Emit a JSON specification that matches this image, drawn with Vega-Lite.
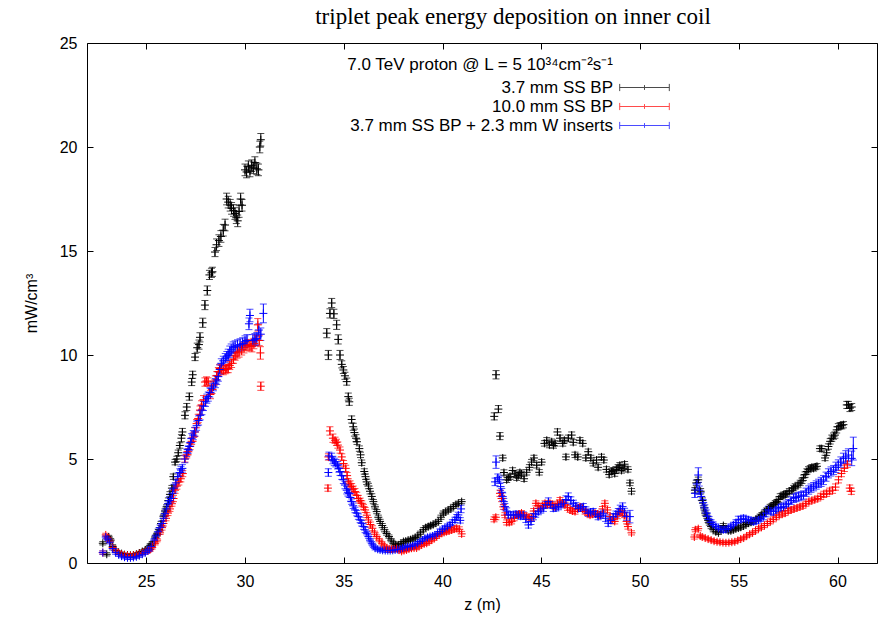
{
"$schema": "https://vega.github.io/schema/vega-lite/v6.json",
"width": 790, "height": 520,
"autosize": "none",
"padding": {"left": 87, "top": 43, "right": 4, "bottom": 55},
"background": "white",
"title": {"text": "triplet peak energy deposition on inner coil", "font": "Liberation Serif", "fontSize": 23, "fontWeight": "normal", "color": "black", "anchor": "middle", "dx": 31, "offset": 6},
"config": {"view": {"stroke": "black", "strokeWidth": 1}, "axis": {"grid": false, "domain": false, "tickColor": "black", "tickWidth": 1, "labelFont": "Liberation Sans", "labelFontSize": 16, "labelColor": "black", "titleFont": "Liberation Sans", "titleFontSize": 16, "titleFontWeight": "normal", "titleColor": "black"}},
"data": {"values": [
{"s":"A","z":22.8,"v":0.95,"e":0.08},{"s":"A","z":23.0,"v":0.42,"e":0.08},{"s":"A","z":23.1,"v":1.25,"e":0.08},{"s":"A","z":23.2,"v":1.1,"e":0.08},{"s":"A","z":23.3,"v":0.8,"e":0.08},{"s":"A","z":23.45,"v":0.6,"e":0.08},{"s":"A","z":23.6,"v":0.5,"e":0.08},{"s":"A","z":23.75,"v":0.45,"e":0.08},{"s":"A","z":23.9,"v":0.4,"e":0.08},{"s":"A","z":24.05,"v":0.38,"e":0.08},{"s":"A","z":24.2,"v":0.37,"e":0.08},{"s":"A","z":24.35,"v":0.38,"e":0.08},{"s":"A","z":24.5,"v":0.42,"e":0.08},{"s":"A","z":24.65,"v":0.48,"e":0.08},{"s":"A","z":24.8,"v":0.55,"e":0.08},{"s":"A","z":24.95,"v":0.62,"e":0.08},{"s":"A","z":25.1,"v":0.72,"e":0.08},{"s":"A","z":25.2,"v":0.85,"e":0.08},{"s":"A","z":25.3,"v":0.95,"e":0.08},{"s":"A","z":25.45,"v":1.25,"e":0.08},{"s":"A","z":25.55,"v":1.4,"e":0.08},{"s":"A","z":25.65,"v":1.6,"e":0.1},{"s":"A","z":25.75,"v":1.9,"e":0.1},{"s":"A","z":25.87,"v":2.25,"e":0.1},{"s":"A","z":25.95,"v":2.5,"e":0.1},{"s":"A","z":26.03,"v":2.7,"e":0.1},{"s":"A","z":26.12,"v":3.0,"e":0.13},{"s":"A","z":26.2,"v":3.3,"e":0.13},{"s":"A","z":26.3,"v":3.6,"e":0.13},{"s":"A","z":26.37,"v":4.15,"e":0.13},{"s":"A","z":26.46,"v":4.85,"e":0.13},{"s":"A","z":26.55,"v":5.0,"e":0.13},{"s":"A","z":26.62,"v":5.3,"e":0.13},{"s":"A","z":26.7,"v":5.65,"e":0.13},{"s":"A","z":26.78,"v":6.0,"e":0.17},{"s":"A","z":26.83,"v":6.3,"e":0.17},{"s":"A","z":26.96,"v":7.1,"e":0.17},{"s":"A","z":27.05,"v":7.5,"e":0.17},{"s":"A","z":27.18,"v":8.0,"e":0.17},{"s":"A","z":27.3,"v":8.7,"e":0.17},{"s":"A","z":27.35,"v":9.05,"e":0.17},{"s":"A","z":27.47,"v":9.9,"e":0.17},{"s":"A","z":27.58,"v":10.35,"e":0.22},{"s":"A","z":27.67,"v":10.5,"e":0.22},{"s":"A","z":27.72,"v":10.85,"e":0.22},{"s":"A","z":27.86,"v":11.55,"e":0.22},{"s":"A","z":27.97,"v":12.4,"e":0.22},{"s":"A","z":28.09,"v":13.1,"e":0.22},{"s":"A","z":28.2,"v":13.85,"e":0.22},{"s":"A","z":28.3,"v":13.95,"e":0.22},{"s":"A","z":28.35,"v":14.0,"e":0.22},{"s":"A","z":28.48,"v":14.95,"e":0.22},{"s":"A","z":28.56,"v":15.3,"e":0.28},{"s":"A","z":28.68,"v":15.5,"e":0.28},{"s":"A","z":28.78,"v":15.7,"e":0.28},{"s":"A","z":28.9,"v":16.0,"e":0.28},{"s":"A","z":28.99,"v":16.25,"e":0.28},{"s":"A","z":29.07,"v":17.5,"e":0.28},{"s":"A","z":29.15,"v":17.35,"e":0.28},{"s":"A","z":29.25,"v":17.2,"e":0.28},{"s":"A","z":29.32,"v":17.05,"e":0.28},{"s":"A","z":29.42,"v":16.95,"e":0.28},{"s":"A","z":29.49,"v":16.8,"e":0.28},{"s":"A","z":29.56,"v":16.6,"e":0.28},{"s":"A","z":29.63,"v":16.45,"e":0.28},{"s":"A","z":29.7,"v":16.9,"e":0.28},{"s":"A","z":29.78,"v":17.5,"e":0.28},{"s":"A","z":29.85,"v":17.2,"e":0.28},{"s":"A","z":30.0,"v":18.9,"e":0.28},{"s":"A","z":30.08,"v":18.8,"e":0.28},{"s":"A","z":30.17,"v":19.05,"e":0.28},{"s":"A","z":30.25,"v":18.85,"e":0.28},{"s":"A","z":30.34,"v":19.1,"e":0.28},{"s":"A","z":30.42,"v":19.0,"e":0.28},{"s":"A","z":30.5,"v":19.25,"e":0.28},{"s":"A","z":30.6,"v":18.95,"e":0.28},{"s":"A","z":30.68,"v":18.9,"e":0.28},{"s":"A","z":30.75,"v":20.0,"e":0.28},{"s":"A","z":30.8,"v":20.35,"e":0.3},
{"s":"A","z":34.14,"v":11.05,"e":0.22},{"s":"A","z":34.22,"v":10.0,"e":0.22},{"s":"A","z":34.3,"v":12.0,"e":0.22},{"s":"A","z":34.39,"v":12.5,"e":0.22},{"s":"A","z":34.5,"v":11.98,"e":0.22},{"s":"A","z":34.64,"v":11.45,"e":0.22},{"s":"A","z":34.72,"v":10.75,"e":0.22},{"s":"A","z":34.81,"v":10.0,"e":0.22},{"s":"A","z":34.9,"v":9.55,"e":0.17},{"s":"A","z":34.98,"v":9.28,"e":0.17},{"s":"A","z":35.06,"v":9.0,"e":0.17},{"s":"A","z":35.15,"v":8.72,"e":0.17},{"s":"A","z":35.23,"v":8.0,"e":0.17},{"s":"A","z":35.28,"v":7.75,"e":0.17},{"s":"A","z":35.4,"v":6.9,"e":0.17},{"s":"A","z":35.48,"v":6.55,"e":0.17},{"s":"A","z":35.54,"v":6.27,"e":0.17},{"s":"A","z":35.62,"v":6.0,"e":0.17},{"s":"A","z":35.67,"v":5.83,"e":0.13},{"s":"A","z":35.79,"v":5.5,"e":0.13},{"s":"A","z":35.85,"v":5.2,"e":0.13},{"s":"A","z":35.91,"v":4.82,"e":0.13},{"s":"A","z":36.04,"v":4.4,"e":0.13},{"s":"A","z":36.1,"v":4.15,"e":0.13},{"s":"A","z":36.16,"v":3.9,"e":0.13},{"s":"A","z":36.25,"v":3.7,"e":0.13},{"s":"A","z":36.33,"v":3.45,"e":0.13},{"s":"A","z":36.42,"v":3.2,"e":0.13},{"s":"A","z":36.5,"v":2.95,"e":0.1},{"s":"A","z":36.58,"v":2.7,"e":0.1},{"s":"A","z":36.67,"v":2.47,"e":0.1},{"s":"A","z":36.75,"v":2.2,"e":0.1},{"s":"A","z":36.84,"v":2.0,"e":0.1},{"s":"A","z":36.95,"v":1.8,"e":0.1},{"s":"A","z":37.06,"v":1.6,"e":0.1},{"s":"A","z":37.17,"v":1.42,"e":0.08},{"s":"A","z":37.29,"v":1.27,"e":0.08},{"s":"A","z":37.4,"v":1.1,"e":0.08},{"s":"A","z":37.51,"v":0.95,"e":0.08},{"s":"A","z":37.63,"v":0.88,"e":0.08},{"s":"A","z":37.76,"v":0.87,"e":0.08},{"s":"A","z":37.9,"v":0.95,"e":0.08},{"s":"A","z":38.02,"v":1.03,"e":0.08},{"s":"A","z":38.14,"v":1.05,"e":0.08},{"s":"A","z":38.26,"v":1.1,"e":0.08},{"s":"A","z":38.38,"v":1.12,"e":0.08},{"s":"A","z":38.5,"v":1.17,"e":0.08},{"s":"A","z":38.62,"v":1.22,"e":0.08},{"s":"A","z":38.75,"v":1.3,"e":0.08},{"s":"A","z":38.88,"v":1.45,"e":0.08},{"s":"A","z":39.03,"v":1.6,"e":0.1},{"s":"A","z":39.15,"v":1.7,"e":0.1},{"s":"A","z":39.28,"v":1.75,"e":0.1},{"s":"A","z":39.4,"v":1.8,"e":0.1},{"s":"A","z":39.53,"v":1.85,"e":0.1},{"s":"A","z":39.66,"v":1.92,"e":0.1},{"s":"A","z":39.79,"v":2.0,"e":0.1},{"s":"A","z":39.92,"v":2.2,"e":0.1},{"s":"A","z":40.04,"v":2.4,"e":0.1},{"s":"A","z":40.16,"v":2.45,"e":0.1},{"s":"A","z":40.29,"v":2.55,"e":0.1},{"s":"A","z":40.42,"v":2.6,"e":0.1},{"s":"A","z":40.55,"v":2.72,"e":0.1},{"s":"A","z":40.68,"v":2.8,"e":0.1},{"s":"A","z":40.8,"v":2.87,"e":0.1},{"s":"A","z":40.97,"v":2.95,"e":0.1},
{"s":"A","z":42.62,"v":7.05,"e":0.17},{"s":"A","z":42.71,"v":9.05,"e":0.2},{"s":"A","z":42.83,"v":7.4,"e":0.17},{"s":"A","z":42.91,"v":6.1,"e":0.17},{"s":"A","z":43.05,"v":5.05,"e":0.13},{"s":"A","z":43.11,"v":4.35,"e":0.13},{"s":"A","z":43.25,"v":4.0,"e":0.13},{"s":"A","z":43.33,"v":4.1,"e":0.13},{"s":"A","z":43.42,"v":4.15,"e":0.13},{"s":"A","z":43.55,"v":4.45,"e":0.13},{"s":"A","z":43.67,"v":4.28,"e":0.13},{"s":"A","z":43.76,"v":4.1,"e":0.13},{"s":"A","z":43.84,"v":4.2,"e":0.13},{"s":"A","z":43.92,"v":4.35,"e":0.13},{"s":"A","z":44.0,"v":4.28,"e":0.13},{"s":"A","z":44.13,"v":4.05,"e":0.13},{"s":"A","z":44.26,"v":4.36,"e":0.13},{"s":"A","z":44.4,"v":4.6,"e":0.13},{"s":"A","z":44.51,"v":4.85,"e":0.13},{"s":"A","z":44.63,"v":5.05,"e":0.13},{"s":"A","z":44.77,"v":4.7,"e":0.13},{"s":"A","z":44.9,"v":4.36,"e":0.13},{"s":"A","z":45.02,"v":4.85,"e":0.13},{"s":"A","z":45.16,"v":5.75,"e":0.13},{"s":"A","z":45.28,"v":5.9,"e":0.13},{"s":"A","z":45.41,"v":5.67,"e":0.13},{"s":"A","z":45.53,"v":5.83,"e":0.13},{"s":"A","z":45.62,"v":5.65,"e":0.13},{"s":"A","z":45.7,"v":5.75,"e":0.13},{"s":"A","z":45.82,"v":6.3,"e":0.15},{"s":"A","z":45.95,"v":6.0,"e":0.15},{"s":"A","z":46.09,"v":5.75,"e":0.13},{"s":"A","z":46.17,"v":5.9,"e":0.13},{"s":"A","z":46.25,"v":5.1,"e":0.13},{"s":"A","z":46.37,"v":6.0,"e":0.15},{"s":"A","z":46.54,"v":6.15,"e":0.15},{"s":"A","z":46.62,"v":5.8,"e":0.13},{"s":"A","z":46.71,"v":5.2,"e":0.13},{"s":"A","z":46.85,"v":5.1,"e":0.13},{"s":"A","z":46.96,"v":5.9,"e":0.13},{"s":"A","z":47.1,"v":5.75,"e":0.13},{"s":"A","z":47.26,"v":5.05,"e":0.13},{"s":"A","z":47.38,"v":5.35,"e":0.13},{"s":"A","z":47.51,"v":5.05,"e":0.13},{"s":"A","z":47.63,"v":4.8,"e":0.13},{"s":"A","z":47.8,"v":4.95,"e":0.13},{"s":"A","z":47.88,"v":4.6,"e":0.13},{"s":"A","z":48.05,"v":5.1,"e":0.13},{"s":"A","z":48.17,"v":4.95,"e":0.13},{"s":"A","z":48.3,"v":4.5,"e":0.13},{"s":"A","z":48.44,"v":4.25,"e":0.13},{"s":"A","z":48.55,"v":4.4,"e":0.13},{"s":"A","z":48.63,"v":4.45,"e":0.13},{"s":"A","z":48.72,"v":4.3,"e":0.13},{"s":"A","z":48.8,"v":4.5,"e":0.13},{"s":"A","z":48.89,"v":4.6,"e":0.13},{"s":"A","z":48.98,"v":4.7,"e":0.13},{"s":"A","z":49.06,"v":4.45,"e":0.13},{"s":"A","z":49.14,"v":4.55,"e":0.13},{"s":"A","z":49.22,"v":4.75,"e":0.13},{"s":"A","z":49.39,"v":4.5,"e":0.13},{"s":"A","z":49.49,"v":3.85,"e":0.13},{"s":"A","z":49.57,"v":3.45,"e":0.13},
{"s":"A","z":52.78,"v":3.5,"e":0.13},{"s":"A","z":52.85,"v":3.85,"e":0.13},{"s":"A","z":52.95,"v":4.0,"e":0.13},{"s":"A","z":53.07,"v":3.45,"e":0.13},{"s":"A","z":53.16,"v":3.0,"e":0.13},{"s":"A","z":53.24,"v":2.65,"e":0.1},{"s":"A","z":53.3,"v":2.4,"e":0.1},{"s":"A","z":53.38,"v":2.25,"e":0.1},{"s":"A","z":53.45,"v":2.05,"e":0.1},{"s":"A","z":53.51,"v":1.92,"e":0.1},{"s":"A","z":53.6,"v":1.75,"e":0.1},{"s":"A","z":53.71,"v":1.6,"e":0.1},{"s":"A","z":53.84,"v":1.5,"e":0.1},{"s":"A","z":53.97,"v":1.45,"e":0.08},{"s":"A","z":54.1,"v":1.6,"e":0.1},{"s":"A","z":54.22,"v":1.8,"e":0.1},{"s":"A","z":54.35,"v":1.65,"e":0.1},{"s":"A","z":54.47,"v":1.55,"e":0.1},{"s":"A","z":54.6,"v":1.55,"e":0.1},{"s":"A","z":54.73,"v":1.6,"e":0.1},{"s":"A","z":54.85,"v":1.65,"e":0.1},{"s":"A","z":54.98,"v":1.68,"e":0.1},{"s":"A","z":55.1,"v":1.72,"e":0.1},{"s":"A","z":55.24,"v":1.78,"e":0.1},{"s":"A","z":55.36,"v":1.85,"e":0.1},{"s":"A","z":55.49,"v":1.92,"e":0.1},{"s":"A","z":55.62,"v":1.96,"e":0.1},{"s":"A","z":55.74,"v":2.0,"e":0.1},{"s":"A","z":55.87,"v":2.1,"e":0.1},{"s":"A","z":56.0,"v":2.15,"e":0.1},{"s":"A","z":56.08,"v":2.25,"e":0.1},{"s":"A","z":56.17,"v":2.32,"e":0.1},{"s":"A","z":56.3,"v":2.45,"e":0.1},{"s":"A","z":56.42,"v":2.55,"e":0.1},{"s":"A","z":56.5,"v":2.6,"e":0.1},{"s":"A","z":56.59,"v":2.72,"e":0.1},{"s":"A","z":56.68,"v":2.75,"e":0.1},{"s":"A","z":56.76,"v":2.8,"e":0.1},{"s":"A","z":56.85,"v":2.9,"e":0.1},{"s":"A","z":56.93,"v":2.95,"e":0.1},{"s":"A","z":57.02,"v":3.05,"e":0.13},{"s":"A","z":57.1,"v":3.2,"e":0.13},{"s":"A","z":57.19,"v":3.22,"e":0.13},{"s":"A","z":57.27,"v":3.28,"e":0.13},{"s":"A","z":57.36,"v":3.3,"e":0.13},{"s":"A","z":57.44,"v":3.35,"e":0.13},{"s":"A","z":57.56,"v":3.45,"e":0.13},{"s":"A","z":57.69,"v":3.5,"e":0.13},{"s":"A","z":57.78,"v":3.6,"e":0.13},{"s":"A","z":57.86,"v":3.68,"e":0.13},{"s":"A","z":58.0,"v":3.75,"e":0.13},{"s":"A","z":58.11,"v":3.85,"e":0.13},{"s":"A","z":58.2,"v":3.95,"e":0.13},{"s":"A","z":58.28,"v":4.1,"e":0.13},{"s":"A","z":58.36,"v":4.25,"e":0.13},{"s":"A","z":58.45,"v":4.4,"e":0.13},{"s":"A","z":58.53,"v":4.5,"e":0.13},{"s":"A","z":58.62,"v":4.55,"e":0.13},{"s":"A","z":58.7,"v":4.6,"e":0.13},{"s":"A","z":58.79,"v":4.55,"e":0.13},{"s":"A","z":58.88,"v":4.62,"e":0.13},{"s":"A","z":58.96,"v":4.65,"e":0.13},{"s":"A","z":59.11,"v":5.5,"e":0.13},{"s":"A","z":59.2,"v":5.5,"e":0.13},{"s":"A","z":59.37,"v":5.05,"e":0.13},{"s":"A","z":59.45,"v":5.3,"e":0.13},{"s":"A","z":59.54,"v":5.6,"e":0.13},{"s":"A","z":59.63,"v":5.85,"e":0.13},{"s":"A","z":59.71,"v":6.0,"e":0.15},{"s":"A","z":59.8,"v":6.1,"e":0.15},{"s":"A","z":59.87,"v":6.15,"e":0.15},{"s":"A","z":59.96,"v":6.4,"e":0.15},{"s":"A","z":60.04,"v":6.55,"e":0.15},{"s":"A","z":60.13,"v":6.6,"e":0.15},{"s":"A","z":60.22,"v":6.6,"e":0.15},{"s":"A","z":60.3,"v":6.65,"e":0.15},{"s":"A","z":60.47,"v":7.6,"e":0.17},{"s":"A","z":60.55,"v":7.6,"e":0.17},{"s":"A","z":60.63,"v":7.45,"e":0.17},{"s":"A","z":60.72,"v":7.5,"e":0.17},
{"s":"B","z":22.8,"v":0.5,"e":0.08},{"s":"B","z":22.95,"v":1.35,"e":0.08},{"s":"B","z":23.05,"v":1.2,"e":0.08},{"s":"B","z":23.15,"v":1.05,"e":0.08},{"s":"B","z":23.3,"v":0.75,"e":0.08},{"s":"B","z":23.45,"v":0.58,"e":0.08},{"s":"B","z":23.6,"v":0.48,"e":0.08},{"s":"B","z":23.75,"v":0.42,"e":0.08},{"s":"B","z":23.9,"v":0.38,"e":0.08},{"s":"B","z":24.05,"v":0.36,"e":0.08},{"s":"B","z":24.2,"v":0.35,"e":0.08},{"s":"B","z":24.35,"v":0.37,"e":0.08},{"s":"B","z":24.5,"v":0.4,"e":0.08},{"s":"B","z":24.65,"v":0.45,"e":0.08},{"s":"B","z":24.8,"v":0.5,"e":0.08},{"s":"B","z":24.95,"v":0.55,"e":0.08},{"s":"B","z":25.1,"v":0.6,"e":0.08},{"s":"B","z":25.2,"v":0.65,"e":0.08},{"s":"B","z":25.3,"v":0.75,"e":0.08},{"s":"B","z":25.45,"v":0.95,"e":0.08},{"s":"B","z":25.55,"v":1.1,"e":0.08},{"s":"B","z":25.7,"v":1.45,"e":0.08},{"s":"B","z":25.8,"v":1.7,"e":0.12},{"s":"B","z":25.87,"v":1.9,"e":0.12},{"s":"B","z":26.0,"v":2.15,"e":0.12},{"s":"B","z":26.1,"v":2.4,"e":0.12},{"s":"B","z":26.2,"v":2.6,"e":0.12},{"s":"B","z":26.3,"v":2.85,"e":0.12},{"s":"B","z":26.38,"v":3.1,"e":0.15},{"s":"B","z":26.46,"v":3.5,"e":0.15},{"s":"B","z":26.55,"v":3.7,"e":0.15},{"s":"B","z":26.65,"v":3.9,"e":0.15},{"s":"B","z":26.75,"v":4.05,"e":0.15},{"s":"B","z":26.85,"v":4.3,"e":0.15},{"s":"B","z":26.96,"v":5.0,"e":0.15},{"s":"B","z":27.05,"v":5.2,"e":0.15},{"s":"B","z":27.13,"v":5.35,"e":0.15},{"s":"B","z":27.22,"v":5.6,"e":0.15},{"s":"B","z":27.3,"v":5.85,"e":0.15},{"s":"B","z":27.38,"v":6.05,"e":0.2},{"s":"B","z":27.47,"v":6.3,"e":0.2},{"s":"B","z":27.55,"v":6.7,"e":0.2},{"s":"B","z":27.63,"v":6.95,"e":0.2},{"s":"B","z":27.72,"v":7.35,"e":0.2},{"s":"B","z":27.8,"v":7.6,"e":0.2},{"s":"B","z":27.9,"v":7.85,"e":0.2},{"s":"B","z":27.97,"v":8.7,"e":0.2},{"s":"B","z":28.05,"v":8.75,"e":0.2},{"s":"B","z":28.13,"v":8.7,"e":0.2},{"s":"B","z":28.25,"v":8.1,"e":0.2},{"s":"B","z":28.33,"v":8.35,"e":0.2},{"s":"B","z":28.4,"v":8.55,"e":0.2},{"s":"B","z":28.5,"v":8.8,"e":0.2},{"s":"B","z":28.57,"v":9.0,"e":0.2},{"s":"B","z":28.65,"v":9.2,"e":0.2},{"s":"B","z":28.72,"v":9.35,"e":0.2},{"s":"B","z":28.8,"v":9.3,"e":0.2},{"s":"B","z":28.9,"v":9.25,"e":0.2},{"s":"B","z":29.0,"v":9.3,"e":0.2},{"s":"B","z":29.08,"v":9.35,"e":0.2},{"s":"B","z":29.15,"v":9.35,"e":0.2},{"s":"B","z":29.23,"v":9.5,"e":0.2},{"s":"B","z":29.32,"v":9.6,"e":0.2},{"s":"B","z":29.42,"v":9.8,"e":0.2},{"s":"B","z":29.5,"v":9.95,"e":0.2},{"s":"B","z":29.6,"v":10.1,"e":0.25},{"s":"B","z":29.7,"v":10.15,"e":0.25},{"s":"B","z":29.83,"v":10.25,"e":0.25},{"s":"B","z":29.95,"v":10.35,"e":0.25},{"s":"B","z":30.05,"v":10.45,"e":0.25},{"s":"B","z":30.15,"v":10.5,"e":0.25},{"s":"B","z":30.25,"v":10.45,"e":0.25},{"s":"B","z":30.35,"v":10.4,"e":0.25},{"s":"B","z":30.45,"v":10.55,"e":0.25},{"s":"B","z":30.55,"v":10.7,"e":0.25},{"s":"B","z":30.65,"v":11.45,"e":0.3},{"s":"B","z":30.72,"v":10.7,"e":0.25},{"s":"B","z":30.78,"v":10.1,"e":0.3},{"s":"B","z":30.8,"v":8.5,"e":0.2},
{"s":"B","z":34.2,"v":3.6,"e":0.15},{"s":"B","z":34.22,"v":5.1,"e":0.15},{"s":"B","z":34.3,"v":6.35,"e":0.2},{"s":"B","z":34.45,"v":6.0,"e":0.2},{"s":"B","z":34.56,"v":5.9,"e":0.15},{"s":"B","z":34.63,"v":5.8,"e":0.15},{"s":"B","z":34.7,"v":5.67,"e":0.15},{"s":"B","z":34.81,"v":5.43,"e":0.15},{"s":"B","z":34.9,"v":5.1,"e":0.15},{"s":"B","z":34.99,"v":4.78,"e":0.15},{"s":"B","z":35.1,"v":4.55,"e":0.15},{"s":"B","z":35.17,"v":4.2,"e":0.15},{"s":"B","z":35.23,"v":3.9,"e":0.15},{"s":"B","z":35.32,"v":3.8,"e":0.15},{"s":"B","z":35.4,"v":3.67,"e":0.15},{"s":"B","z":35.48,"v":3.55,"e":0.15},{"s":"B","z":35.57,"v":3.43,"e":0.15},{"s":"B","z":35.66,"v":3.25,"e":0.15},{"s":"B","z":35.74,"v":3.1,"e":0.15},{"s":"B","z":35.83,"v":3.0,"e":0.12},{"s":"B","z":35.91,"v":2.87,"e":0.12},{"s":"B","z":36.0,"v":2.7,"e":0.12},{"s":"B","z":36.08,"v":2.55,"e":0.12},{"s":"B","z":36.17,"v":2.3,"e":0.12},{"s":"B","z":36.25,"v":2.07,"e":0.12},{"s":"B","z":36.35,"v":1.85,"e":0.12},{"s":"B","z":36.45,"v":1.67,"e":0.12},{"s":"B","z":36.56,"v":1.45,"e":0.08},{"s":"B","z":36.67,"v":1.27,"e":0.08},{"s":"B","z":36.8,"v":1.1,"e":0.08},{"s":"B","z":36.93,"v":0.95,"e":0.08},{"s":"B","z":37.05,"v":0.82,"e":0.08},{"s":"B","z":37.18,"v":0.72,"e":0.08},{"s":"B","z":37.3,"v":0.68,"e":0.08},{"s":"B","z":37.43,"v":0.67,"e":0.08},{"s":"B","z":37.55,"v":0.68,"e":0.08},{"s":"B","z":37.68,"v":0.7,"e":0.08},{"s":"B","z":37.8,"v":0.62,"e":0.08},{"s":"B","z":37.93,"v":0.56,"e":0.08},{"s":"B","z":38.05,"v":0.6,"e":0.08},{"s":"B","z":38.18,"v":0.63,"e":0.08},{"s":"B","z":38.3,"v":0.67,"e":0.08},{"s":"B","z":38.43,"v":0.71,"e":0.08},{"s":"B","z":38.56,"v":0.72,"e":0.08},{"s":"B","z":38.69,"v":0.72,"e":0.08},{"s":"B","z":38.81,"v":0.8,"e":0.08},{"s":"B","z":38.94,"v":0.87,"e":0.08},{"s":"B","z":39.07,"v":0.92,"e":0.08},{"s":"B","z":39.2,"v":0.95,"e":0.08},{"s":"B","z":39.32,"v":1.02,"e":0.08},{"s":"B","z":39.45,"v":1.1,"e":0.08},{"s":"B","z":39.58,"v":1.18,"e":0.08},{"s":"B","z":39.7,"v":1.27,"e":0.08},{"s":"B","z":39.83,"v":1.35,"e":0.08},{"s":"B","z":39.96,"v":1.43,"e":0.08},{"s":"B","z":40.08,"v":1.47,"e":0.08},{"s":"B","z":40.2,"v":1.51,"e":0.12},{"s":"B","z":40.33,"v":1.55,"e":0.12},{"s":"B","z":40.46,"v":1.59,"e":0.12},{"s":"B","z":40.59,"v":1.63,"e":0.12},{"s":"B","z":40.72,"v":1.67,"e":0.12},{"s":"B","z":40.85,"v":1.62,"e":0.12},{"s":"B","z":40.97,"v":1.4,"e":0.12},
{"s":"B","z":42.61,"v":2.1,"e":0.12},{"s":"B","z":42.7,"v":2.2,"e":0.12},{"s":"B","z":42.91,"v":3.35,"e":0.15},{"s":"B","z":42.99,"v":3.1,"e":0.15},{"s":"B","z":43.08,"v":2.7,"e":0.12},{"s":"B","z":43.16,"v":2.3,"e":0.12},{"s":"B","z":43.25,"v":1.95,"e":0.12},{"s":"B","z":43.38,"v":1.95,"e":0.12},{"s":"B","z":43.5,"v":2.0,"e":0.12},{"s":"B","z":43.63,"v":2.15,"e":0.12},{"s":"B","z":43.76,"v":2.3,"e":0.12},{"s":"B","z":43.88,"v":2.35,"e":0.12},{"s":"B","z":44.0,"v":2.4,"e":0.12},{"s":"B","z":44.13,"v":2.3,"e":0.12},{"s":"B","z":44.26,"v":2.23,"e":0.12},{"s":"B","z":44.38,"v":2.2,"e":0.12},{"s":"B","z":44.51,"v":2.15,"e":0.12},{"s":"B","z":44.62,"v":2.5,"e":0.12},{"s":"B","z":44.73,"v":2.87,"e":0.12},{"s":"B","z":44.84,"v":2.75,"e":0.12},{"s":"B","z":44.94,"v":2.63,"e":0.12},{"s":"B","z":45.06,"v":2.75,"e":0.12},{"s":"B","z":45.19,"v":2.87,"e":0.12},{"s":"B","z":45.31,"v":2.8,"e":0.12},{"s":"B","z":45.44,"v":2.87,"e":0.12},{"s":"B","z":45.57,"v":2.8,"e":0.12},{"s":"B","z":45.7,"v":2.7,"e":0.12},{"s":"B","z":45.82,"v":2.85,"e":0.12},{"s":"B","z":45.95,"v":3.03,"e":0.12},{"s":"B","z":46.08,"v":2.9,"e":0.12},{"s":"B","z":46.2,"v":2.8,"e":0.12},{"s":"B","z":46.33,"v":2.65,"e":0.12},{"s":"B","z":46.46,"v":2.55,"e":0.12},{"s":"B","z":46.58,"v":2.5,"e":0.12},{"s":"B","z":46.71,"v":2.47,"e":0.12},{"s":"B","z":46.84,"v":2.6,"e":0.12},{"s":"B","z":46.96,"v":2.7,"e":0.12},{"s":"B","z":47.09,"v":2.6,"e":0.12},{"s":"B","z":47.22,"v":2.47,"e":0.12},{"s":"B","z":47.34,"v":2.4,"e":0.12},{"s":"B","z":47.47,"v":2.3,"e":0.12},{"s":"B","z":47.6,"v":2.35,"e":0.12},{"s":"B","z":47.72,"v":2.4,"e":0.12},{"s":"B","z":47.85,"v":2.35,"e":0.12},{"s":"B","z":47.97,"v":2.3,"e":0.12},{"s":"B","z":48.1,"v":2.6,"e":0.12},{"s":"B","z":48.22,"v":2.87,"e":0.12},{"s":"B","z":48.35,"v":2.55,"e":0.12},{"s":"B","z":48.48,"v":2.23,"e":0.12},{"s":"B","z":48.6,"v":2.1,"e":0.12},{"s":"B","z":48.72,"v":2.0,"e":0.12},{"s":"B","z":48.85,"v":2.25,"e":0.12},{"s":"B","z":48.98,"v":2.47,"e":0.12},{"s":"B","z":49.1,"v":2.4,"e":0.12},{"s":"B","z":49.22,"v":2.3,"e":0.12},{"s":"B","z":49.32,"v":2.0,"e":0.12},{"s":"B","z":49.39,"v":1.75,"e":0.12},{"s":"B","z":49.57,"v":1.45,"e":0.1},
{"s":"B","z":52.75,"v":1.25,"e":0.1},{"s":"B","z":52.8,"v":1.6,"e":0.1},{"s":"B","z":52.95,"v":1.65,"e":0.1},{"s":"B","z":53.05,"v":1.3,"e":0.08},{"s":"B","z":53.15,"v":1.25,"e":0.08},{"s":"B","z":53.3,"v":1.2,"e":0.08},{"s":"B","z":53.45,"v":1.15,"e":0.08},{"s":"B","z":53.6,"v":1.1,"e":0.08},{"s":"B","z":53.75,"v":1.05,"e":0.08},{"s":"B","z":53.9,"v":1.02,"e":0.08},{"s":"B","z":54.05,"v":1.0,"e":0.08},{"s":"B","z":54.2,"v":0.98,"e":0.08},{"s":"B","z":54.35,"v":0.97,"e":0.08},{"s":"B","z":54.5,"v":0.98,"e":0.08},{"s":"B","z":54.65,"v":1.0,"e":0.08},{"s":"B","z":54.8,"v":1.02,"e":0.08},{"s":"B","z":54.95,"v":1.08,"e":0.08},{"s":"B","z":55.1,"v":1.15,"e":0.08},{"s":"B","z":55.25,"v":1.2,"e":0.08},{"s":"B","z":55.4,"v":1.3,"e":0.08},{"s":"B","z":55.55,"v":1.38,"e":0.08},{"s":"B","z":55.7,"v":1.45,"e":0.08},{"s":"B","z":55.85,"v":1.55,"e":0.1},{"s":"B","z":56.0,"v":1.65,"e":0.1},{"s":"B","z":56.15,"v":1.72,"e":0.1},{"s":"B","z":56.3,"v":1.8,"e":0.1},{"s":"B","z":56.45,"v":1.9,"e":0.1},{"s":"B","z":56.6,"v":2.0,"e":0.12},{"s":"B","z":56.75,"v":2.1,"e":0.12},{"s":"B","z":56.9,"v":2.2,"e":0.12},{"s":"B","z":57.05,"v":2.3,"e":0.12},{"s":"B","z":57.2,"v":2.35,"e":0.12},{"s":"B","z":57.35,"v":2.4,"e":0.12},{"s":"B","z":57.5,"v":2.5,"e":0.12},{"s":"B","z":57.65,"v":2.55,"e":0.12},{"s":"B","z":57.8,"v":2.6,"e":0.12},{"s":"B","z":57.95,"v":2.65,"e":0.12},{"s":"B","z":58.1,"v":2.7,"e":0.12},{"s":"B","z":58.25,"v":2.75,"e":0.12},{"s":"B","z":58.4,"v":2.85,"e":0.12},{"s":"B","z":58.55,"v":2.95,"e":0.12},{"s":"B","z":58.7,"v":3.0,"e":0.12},{"s":"B","z":58.85,"v":3.05,"e":0.12},{"s":"B","z":59.0,"v":3.1,"e":0.12},{"s":"B","z":59.15,"v":3.2,"e":0.15},{"s":"B","z":59.3,"v":3.3,"e":0.15},{"s":"B","z":59.45,"v":3.35,"e":0.15},{"s":"B","z":59.6,"v":3.45,"e":0.15},{"s":"B","z":59.75,"v":3.5,"e":0.15},{"s":"B","z":59.9,"v":3.65,"e":0.15},{"s":"B","z":60.05,"v":4.0,"e":0.15},{"s":"B","z":60.2,"v":4.3,"e":0.15},{"s":"B","z":60.35,"v":4.55,"e":0.15},{"s":"B","z":60.5,"v":4.75,"e":0.15},{"s":"B","z":60.62,"v":3.6,"e":0.15},{"s":"B","z":60.7,"v":3.45,"e":0.15},
{"s":"C","z":22.8,"v":0.5,"e":0.08},{"s":"C","z":22.95,"v":1.25,"e":0.08},{"s":"C","z":23.05,"v":1.15,"e":0.08},{"s":"C","z":23.15,"v":1.0,"e":0.08},{"s":"C","z":23.3,"v":0.7,"e":0.08},{"s":"C","z":23.45,"v":0.5,"e":0.08},{"s":"C","z":23.6,"v":0.4,"e":0.08},{"s":"C","z":23.75,"v":0.33,"e":0.08},{"s":"C","z":23.9,"v":0.28,"e":0.08},{"s":"C","z":24.05,"v":0.25,"e":0.08},{"s":"C","z":24.2,"v":0.25,"e":0.08},{"s":"C","z":24.35,"v":0.27,"e":0.08},{"s":"C","z":24.5,"v":0.3,"e":0.08},{"s":"C","z":24.65,"v":0.35,"e":0.08},{"s":"C","z":24.8,"v":0.42,"e":0.08},{"s":"C","z":24.95,"v":0.5,"e":0.08},{"s":"C","z":25.05,"v":0.58,"e":0.08},{"s":"C","z":25.15,"v":0.63,"e":0.08},{"s":"C","z":25.25,"v":0.8,"e":0.08},{"s":"C","z":25.4,"v":1.1,"e":0.08},{"s":"C","z":25.5,"v":1.3,"e":0.08},{"s":"C","z":25.6,"v":1.5,"e":0.13},{"s":"C","z":25.7,"v":1.7,"e":0.13},{"s":"C","z":25.8,"v":1.9,"e":0.13},{"s":"C","z":25.88,"v":2.15,"e":0.13},{"s":"C","z":25.95,"v":2.37,"e":0.13},{"s":"C","z":26.03,"v":2.6,"e":0.13},{"s":"C","z":26.1,"v":2.85,"e":0.13},{"s":"C","z":26.18,"v":3.0,"e":0.18},{"s":"C","z":26.25,"v":3.1,"e":0.18},{"s":"C","z":26.33,"v":3.35,"e":0.18},{"s":"C","z":26.4,"v":3.6,"e":0.18},{"s":"C","z":26.5,"v":3.85,"e":0.18},{"s":"C","z":26.6,"v":4.15,"e":0.18},{"s":"C","z":26.7,"v":4.35,"e":0.18},{"s":"C","z":26.76,"v":4.47,"e":0.18},{"s":"C","z":26.83,"v":4.55,"e":0.18},{"s":"C","z":26.95,"v":5.0,"e":0.18},{"s":"C","z":27.05,"v":5.3,"e":0.18},{"s":"C","z":27.12,"v":5.45,"e":0.18},{"s":"C","z":27.18,"v":5.6,"e":0.18},{"s":"C","z":27.25,"v":5.8,"e":0.18},{"s":"C","z":27.3,"v":6.0,"e":0.22},{"s":"C","z":27.38,"v":6.15,"e":0.22},{"s":"C","z":27.45,"v":6.3,"e":0.22},{"s":"C","z":27.55,"v":6.6,"e":0.22},{"s":"C","z":27.65,"v":6.85,"e":0.22},{"s":"C","z":27.73,"v":7.1,"e":0.22},{"s":"C","z":27.82,"v":7.35,"e":0.22},{"s":"C","z":27.9,"v":7.55,"e":0.22},{"s":"C","z":28.0,"v":7.75,"e":0.22},{"s":"C","z":28.07,"v":7.9,"e":0.22},{"s":"C","z":28.14,"v":8.0,"e":0.22},{"s":"C","z":28.22,"v":8.2,"e":0.22},{"s":"C","z":28.3,"v":8.4,"e":0.22},{"s":"C","z":28.4,"v":8.5,"e":0.22},{"s":"C","z":28.5,"v":8.65,"e":0.22},{"s":"C","z":28.57,"v":8.8,"e":0.22},{"s":"C","z":28.65,"v":8.96,"e":0.22},{"s":"C","z":28.72,"v":9.3,"e":0.22},{"s":"C","z":28.8,"v":9.6,"e":0.22},{"s":"C","z":28.9,"v":9.72,"e":0.22},{"s":"C","z":29.0,"v":9.85,"e":0.22},{"s":"C","z":29.08,"v":9.95,"e":0.22},{"s":"C","z":29.15,"v":10.0,"e":0.28},{"s":"C","z":29.23,"v":10.15,"e":0.28},{"s":"C","z":29.3,"v":10.25,"e":0.28},{"s":"C","z":29.4,"v":10.35,"e":0.28},{"s":"C","z":29.5,"v":10.4,"e":0.28},{"s":"C","z":29.62,"v":10.45,"e":0.28},{"s":"C","z":29.75,"v":10.5,"e":0.28},{"s":"C","z":29.88,"v":10.55,"e":0.28},{"s":"C","z":30.0,"v":10.64,"e":0.28},{"s":"C","z":30.1,"v":10.7,"e":0.28},{"s":"C","z":30.2,"v":11.5,"e":0.28},{"s":"C","z":30.25,"v":11.9,"e":0.3},{"s":"C","z":30.4,"v":10.7,"e":0.28},{"s":"C","z":30.5,"v":10.75,"e":0.28},{"s":"C","z":30.6,"v":10.8,"e":0.28},{"s":"C","z":30.7,"v":11.2,"e":0.3},{"s":"C","z":30.8,"v":11.0,"e":0.3},{"s":"C","z":30.93,"v":12.0,"e":0.45},
{"s":"C","z":34.22,"v":4.35,"e":0.18},{"s":"C","z":34.25,"v":5.15,"e":0.18},{"s":"C","z":34.39,"v":5.1,"e":0.18},{"s":"C","z":34.45,"v":4.95,"e":0.18},{"s":"C","z":34.52,"v":4.86,"e":0.18},{"s":"C","z":34.6,"v":4.8,"e":0.18},{"s":"C","z":34.69,"v":4.7,"e":0.18},{"s":"C","z":34.75,"v":4.55,"e":0.18},{"s":"C","z":34.81,"v":4.39,"e":0.18},{"s":"C","z":34.9,"v":4.2,"e":0.18},{"s":"C","z":34.98,"v":4.0,"e":0.18},{"s":"C","z":35.06,"v":3.75,"e":0.18},{"s":"C","z":35.15,"v":3.5,"e":0.18},{"s":"C","z":35.21,"v":3.4,"e":0.18},{"s":"C","z":35.27,"v":3.35,"e":0.18},{"s":"C","z":35.34,"v":3.15,"e":0.18},{"s":"C","z":35.4,"v":2.95,"e":0.13},{"s":"C","z":35.48,"v":2.75,"e":0.13},{"s":"C","z":35.57,"v":2.55,"e":0.13},{"s":"C","z":35.66,"v":2.4,"e":0.13},{"s":"C","z":35.74,"v":2.23,"e":0.13},{"s":"C","z":35.83,"v":2.07,"e":0.13},{"s":"C","z":35.91,"v":1.91,"e":0.13},{"s":"C","z":36.0,"v":1.75,"e":0.13},{"s":"C","z":36.08,"v":1.59,"e":0.13},{"s":"C","z":36.17,"v":1.43,"e":0.08},{"s":"C","z":36.25,"v":1.27,"e":0.08},{"s":"C","z":36.33,"v":1.1,"e":0.08},{"s":"C","z":36.42,"v":0.95,"e":0.08},{"s":"C","z":36.5,"v":0.82,"e":0.08},{"s":"C","z":36.59,"v":0.71,"e":0.08},{"s":"C","z":36.72,"v":0.66,"e":0.08},{"s":"C","z":36.84,"v":0.63,"e":0.08},{"s":"C","z":36.97,"v":0.61,"e":0.08},{"s":"C","z":37.1,"v":0.6,"e":0.08},{"s":"C","z":37.23,"v":0.6,"e":0.08},{"s":"C","z":37.35,"v":0.6,"e":0.08},{"s":"C","z":37.48,"v":0.61,"e":0.08},{"s":"C","z":37.6,"v":0.63,"e":0.08},{"s":"C","z":37.73,"v":0.65,"e":0.08},{"s":"C","z":37.86,"v":0.67,"e":0.08},{"s":"C","z":37.98,"v":0.72,"e":0.08},{"s":"C","z":38.1,"v":0.76,"e":0.08},{"s":"C","z":38.23,"v":0.78,"e":0.08},{"s":"C","z":38.36,"v":0.79,"e":0.08},{"s":"C","z":38.48,"v":0.83,"e":0.08},{"s":"C","z":38.61,"v":0.87,"e":0.08},{"s":"C","z":38.74,"v":0.95,"e":0.08},{"s":"C","z":38.86,"v":1.03,"e":0.08},{"s":"C","z":38.99,"v":1.1,"e":0.08},{"s":"C","z":39.11,"v":1.19,"e":0.08},{"s":"C","z":39.24,"v":1.23,"e":0.08},{"s":"C","z":39.37,"v":1.27,"e":0.08},{"s":"C","z":39.5,"v":1.3,"e":0.08},{"s":"C","z":39.62,"v":1.35,"e":0.08},{"s":"C","z":39.75,"v":1.43,"e":0.08},{"s":"C","z":39.87,"v":1.51,"e":0.13},{"s":"C","z":40.0,"v":1.6,"e":0.13},{"s":"C","z":40.12,"v":1.67,"e":0.13},{"s":"C","z":40.25,"v":1.75,"e":0.13},{"s":"C","z":40.38,"v":1.83,"e":0.13},{"s":"C","z":40.5,"v":1.95,"e":0.13},{"s":"C","z":40.63,"v":2.07,"e":0.13},{"s":"C","z":40.72,"v":2.2,"e":0.13},{"s":"C","z":40.8,"v":2.31,"e":0.13},{"s":"C","z":40.9,"v":2.05,"e":0.13},{"s":"C","z":40.94,"v":2.6,"e":0.18},
{"s":"C","z":42.66,"v":3.9,"e":0.18},{"s":"C","z":42.71,"v":4.85,"e":0.3},{"s":"C","z":42.8,"v":4.1,"e":0.18},{"s":"C","z":42.88,"v":4.0,"e":0.18},{"s":"C","z":42.94,"v":3.67,"e":0.18},{"s":"C","z":43.0,"v":3.4,"e":0.18},{"s":"C","z":43.05,"v":3.19,"e":0.18},{"s":"C","z":43.1,"v":2.95,"e":0.15},{"s":"C","z":43.16,"v":2.71,"e":0.15},{"s":"C","z":43.25,"v":2.5,"e":0.15},{"s":"C","z":43.33,"v":2.31,"e":0.15},{"s":"C","z":43.46,"v":2.3,"e":0.15},{"s":"C","z":43.59,"v":2.31,"e":0.15},{"s":"C","z":43.72,"v":2.35,"e":0.15},{"s":"C","z":43.84,"v":2.31,"e":0.15},{"s":"C","z":43.96,"v":2.25,"e":0.15},{"s":"C","z":44.09,"v":2.31,"e":0.15},{"s":"C","z":44.22,"v":2.1,"e":0.15},{"s":"C","z":44.35,"v":1.83,"e":0.15},{"s":"C","z":44.48,"v":2.0,"e":0.15},{"s":"C","z":44.6,"v":2.23,"e":0.15},{"s":"C","z":44.72,"v":2.35,"e":0.15},{"s":"C","z":44.85,"v":2.47,"e":0.15},{"s":"C","z":44.98,"v":2.55,"e":0.15},{"s":"C","z":45.11,"v":2.63,"e":0.15},{"s":"C","z":45.23,"v":2.8,"e":0.15},{"s":"C","z":45.36,"v":2.95,"e":0.18},{"s":"C","z":45.48,"v":2.8,"e":0.15},{"s":"C","z":45.61,"v":2.63,"e":0.15},{"s":"C","z":45.74,"v":2.65,"e":0.15},{"s":"C","z":45.87,"v":2.71,"e":0.15},{"s":"C","z":46.0,"v":2.8,"e":0.15},{"s":"C","z":46.12,"v":2.87,"e":0.15},{"s":"C","z":46.25,"v":3.05,"e":0.18},{"s":"C","z":46.37,"v":3.19,"e":0.18},{"s":"C","z":46.5,"v":3.0,"e":0.18},{"s":"C","z":46.63,"v":2.87,"e":0.15},{"s":"C","z":46.75,"v":2.75,"e":0.15},{"s":"C","z":46.88,"v":2.63,"e":0.15},{"s":"C","z":47.0,"v":2.65,"e":0.15},{"s":"C","z":47.13,"v":2.71,"e":0.15},{"s":"C","z":47.26,"v":2.55,"e":0.15},{"s":"C","z":47.38,"v":2.39,"e":0.15},{"s":"C","z":47.5,"v":2.45,"e":0.15},{"s":"C","z":47.63,"v":2.47,"e":0.15},{"s":"C","z":47.75,"v":2.35,"e":0.15},{"s":"C","z":47.88,"v":2.23,"e":0.15},{"s":"C","z":48.01,"v":2.3,"e":0.15},{"s":"C","z":48.14,"v":2.39,"e":0.15},{"s":"C","z":48.26,"v":2.15,"e":0.15},{"s":"C","z":48.39,"v":1.91,"e":0.15},{"s":"C","z":48.52,"v":2.05,"e":0.15},{"s":"C","z":48.65,"v":2.23,"e":0.15},{"s":"C","z":48.78,"v":2.35,"e":0.15},{"s":"C","z":48.9,"v":2.47,"e":0.15},{"s":"C","z":49.0,"v":2.6,"e":0.18},{"s":"C","z":49.12,"v":2.71,"e":0.18},{"s":"C","z":49.22,"v":2.45,"e":0.18},{"s":"C","z":49.32,"v":2.23,"e":0.18},{"s":"C","z":49.49,"v":2.23,"e":0.3},
{"s":"C","z":52.78,"v":3.35,"e":0.2},{"s":"C","z":52.88,"v":3.8,"e":0.2},{"s":"C","z":52.95,"v":4.23,"e":0.35},{"s":"C","z":53.0,"v":3.5,"e":0.2},{"s":"C","z":53.1,"v":3.2,"e":0.18},{"s":"C","z":53.2,"v":2.9,"e":0.15},{"s":"C","z":53.28,"v":2.65,"e":0.15},{"s":"C","z":53.35,"v":2.4,"e":0.15},{"s":"C","z":53.42,"v":2.25,"e":0.15},{"s":"C","z":53.5,"v":2.1,"e":0.13},{"s":"C","z":53.6,"v":1.95,"e":0.13},{"s":"C","z":53.7,"v":1.85,"e":0.13},{"s":"C","z":53.84,"v":1.75,"e":0.13},{"s":"C","z":53.97,"v":1.67,"e":0.13},{"s":"C","z":54.1,"v":1.62,"e":0.13},{"s":"C","z":54.22,"v":1.6,"e":0.13},{"s":"C","z":54.35,"v":1.62,"e":0.13},{"s":"C","z":54.47,"v":1.67,"e":0.13},{"s":"C","z":54.6,"v":1.75,"e":0.13},{"s":"C","z":54.73,"v":1.83,"e":0.13},{"s":"C","z":54.86,"v":1.95,"e":0.13},{"s":"C","z":54.98,"v":2.07,"e":0.18},{"s":"C","z":55.11,"v":2.1,"e":0.15},{"s":"C","z":55.24,"v":2.15,"e":0.15},{"s":"C","z":55.36,"v":2.1,"e":0.15},{"s":"C","z":55.49,"v":2.07,"e":0.15},{"s":"C","z":55.62,"v":2.03,"e":0.15},{"s":"C","z":55.74,"v":1.99,"e":0.15},{"s":"C","z":55.87,"v":2.03,"e":0.15},{"s":"C","z":56.0,"v":2.07,"e":0.15},{"s":"C","z":56.12,"v":2.15,"e":0.15},{"s":"C","z":56.25,"v":2.23,"e":0.15},{"s":"C","z":56.38,"v":2.4,"e":0.18},{"s":"C","z":56.5,"v":2.55,"e":0.18},{"s":"C","z":56.63,"v":2.5,"e":0.18},{"s":"C","z":56.76,"v":2.47,"e":0.18},{"s":"C","z":56.88,"v":2.55,"e":0.18},{"s":"C","z":57.01,"v":2.63,"e":0.18},{"s":"C","z":57.14,"v":2.67,"e":0.18},{"s":"C","z":57.27,"v":2.71,"e":0.18},{"s":"C","z":57.4,"v":2.8,"e":0.18},{"s":"C","z":57.52,"v":2.87,"e":0.18},{"s":"C","z":57.65,"v":3.0,"e":0.18},{"s":"C","z":57.78,"v":3.11,"e":0.2},{"s":"C","z":57.9,"v":3.15,"e":0.2},{"s":"C","z":58.03,"v":3.19,"e":0.2},{"s":"C","z":58.16,"v":3.23,"e":0.2},{"s":"C","z":58.28,"v":3.27,"e":0.2},{"s":"C","z":58.41,"v":3.4,"e":0.2},{"s":"C","z":58.54,"v":3.51,"e":0.2},{"s":"C","z":58.66,"v":3.6,"e":0.2},{"s":"C","z":58.79,"v":3.67,"e":0.2},{"s":"C","z":58.92,"v":3.75,"e":0.2},{"s":"C","z":59.04,"v":3.83,"e":0.2},{"s":"C","z":59.17,"v":3.9,"e":0.22},{"s":"C","z":59.29,"v":3.99,"e":0.22},{"s":"C","z":59.42,"v":4.15,"e":0.22},{"s":"C","z":59.54,"v":4.31,"e":0.22},{"s":"C","z":59.67,"v":4.4,"e":0.22},{"s":"C","z":59.8,"v":4.47,"e":0.22},{"s":"C","z":59.92,"v":4.6,"e":0.25},{"s":"C","z":60.04,"v":4.71,"e":0.25},{"s":"C","z":60.17,"v":4.85,"e":0.25},{"s":"C","z":60.3,"v":5.03,"e":0.25},{"s":"C","z":60.42,"v":5.1,"e":0.3},{"s":"C","z":60.55,"v":5.19,"e":0.3},{"s":"C","z":60.72,"v":5.03,"e":0.35},{"s":"C","z":60.8,"v":5.5,"e":0.55}
]},
"layer": [
{"mark": {"type": "errorbar", "ticks": {"size": 7, "thickness": 1}, "thickness": 1},
 "encoding": {
  "x": {"field": "z", "type": "quantitative", "scale": {"domain": [22, 62], "nice": false, "zero": false}, "axis": {"orient": "top", "values": [25, 30, 35, 40, 45, 50, 55, 60], "labels": false, "tickSize": -6, "title": null}},
  "y": {"field": "v", "type": "quantitative", "scale": {"domain": [0, 25], "nice": false}, "axis": {"orient": "right", "values": [0, 5, 10, 15, 20, 25], "labels": false, "tickSize": -6, "title": null}},
  "yError": {"field": "e"},
  "color": {"field": "s", "type": "nominal", "scale": {"domain": ["A", "B", "C"], "range": ["#000000", "#ff0000", "#0000ff"]}}
 }},
{"mark": {"type": "point", "shape": "M-1,0H1M0,-1V1", "size": 64, "filled": false, "strokeWidth": 1, "opacity": 1},
 "encoding": {
  "x": {"field": "z", "type": "quantitative", "scale": {"domain": [22, 62], "nice": false, "zero": false}, "axis": {"orient": "bottom", "values": [25, 30, 35, 40, 45, 50, 55, 60], "tickSize": -6, "labelPadding": 16, "title": "z (m)", "titlePadding": 7}},
  "y": {"field": "v", "type": "quantitative", "scale": {"domain": [0, 25], "nice": false}, "axis": {"orient": "left", "values": [0, 5, 10, 15, 20, 25], "tickSize": -6, "labelPadding": 16, "title": "mW/cm³", "titlePadding": 20}},
  "color": {"field": "s", "type": "nominal", "scale": {"domain": ["A", "B", "C"], "range": ["#000000", "#ff0000", "#0000ff"]},
   "legend": {"orient": "none", "legendX": 259, "legendY": 14, "padding": 0,
    "title": "7.0 TeV proton @ L = 5 10³⁴cm⁻²s⁻¹", "titleAlign": "right", "titleAnchor": "start", "titleFont": "Liberation Sans", "titleFontSize": 17, "titleFontWeight": "normal", "titleColor": "black", "titlePadding": 5, "titleLimit": 700,
    "labelAlign": "right", "labelOffset": -40, "labelFont": "Liberation Sans", "labelFontSize": 17, "labelColor": "black", "labelLimit": 600,
    "labelExpr": "datum.label == 'A' ? '3.7 mm SS BP' : datum.label == 'B' ? '10.0 mm SS BP' : '3.7 mm SS BP + 2.3 mm W inserts'",
    "symbolType": "M-3.1,0H3.1M-3.1,-0.45V0.45M3.1,-0.45V0.45M0,-0.3V0.3", "symbolSize": 256, "symbolOffset": 23, "symbolStrokeWidth": 1, "symbolFillColor": "transparent", "rowPadding": 1}}
 }}
],
"resolve": {"axis": {"x": "independent", "y": "independent"}}
}
